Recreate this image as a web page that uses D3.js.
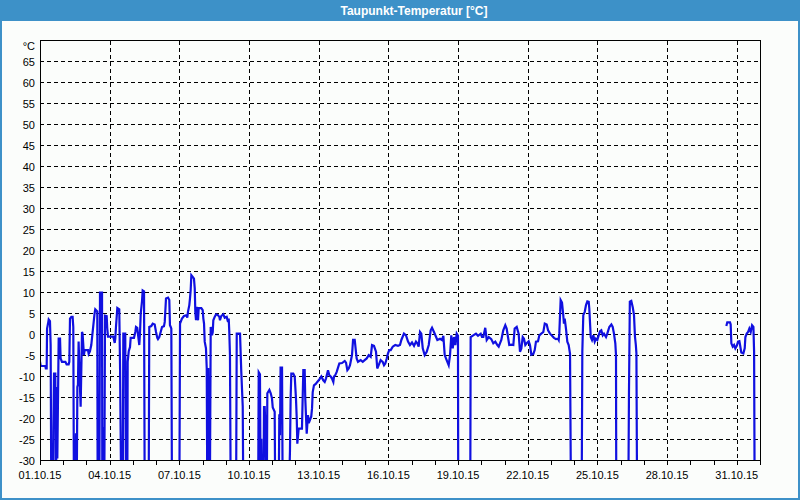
<!DOCTYPE html>
<html><head><meta charset="utf-8">
<script src="https://cdn.jsdelivr.net/npm/d3@7"></script>
<style>body{margin:0;background:#fff}svg{display:block}text{font-family:"Liberation Sans",Arial,sans-serif}</style>
</head><body><svg id="c" width="800" height="500"></svg>
<script>
const chartTitle = "Taupunkt-Temperatur [°C]";
const unitLabel = "°C";
const startDate = new Date(2015, 9, 1);
const endDate = new Date(2015, 10, 1);
const yTickValues = [-30,-25,-20,-15,-10,-5,0,5,10,15,20,25,30,35,40,45,50,55,60,65];
const xLabelDays = [0,3,6,9,12,15,18,21,24,27,30];
// [hours since 01.10.15 00:00, dew point °C]; values below -30 lie off the scale, null = no data
const dewPointReadings = [
[0,-6.5],[0.7,-7.5],[5.5,-7.5],[6,-8.1],[6.9,-8.1],[7.3,1.4],[8.3,2.6],[9,3.6],[10.3,3.2],[11,-2.5],[11.7,-40],[13.4,-40],[13.8,-22.8],[14.5,-9.3],[15.8,-9.3],[16.5,-40],[17.2,-12.5],[17.9,-29.5],[19.3,-1],[20.7,-1],[21.3,-5.7],[22.7,-6.5],[26.2,-6.5],[27.5,-7.1],[29.6,-7.1],[30.3,-6.5],[31,3.8],[32.4,4.2],[33.7,4.2],[34.4,1.8],[35.1,-40],[36.5,-40],[37.2,-23.5],[37.9,-40],[38.6,-12.5],[39.2,-12],[39.9,-1.7],[41.3,-12.5],[42,-17.2],[43.4,0.6],[44,0.2],[45.4,-4.9],[46.1,-3.7],[49.6,-3.7],[50.3,-4.6],[51.6,-4],[53,-2.5],[54.4,0.6],[56.4,5],[57.1,6],[59.2,5.5],[59.6,-40],[61.3,-40],[62,10],[64.1,10],[64.4,-40],[65,-40],[65.4,-22],[66,-40],[66.4,-40],[67.2,4.5],[68.9,4.4],[69.5,1.4],[70.3,-0.5],[75.7,-0.5],[77.2,-2],[77.8,-1],[78.5,1.8],[79.9,6.3],[81.9,6],[82.7,-7.3],[84,-40],[85.5,-40],[86.1,0.2],[88.1,0.2],[88.9,-40],[89.6,-9.5],[90.2,-40],[90.6,-6.5],[91.7,-4],[93,-3],[93.7,-0.8],[97.1,-0.8],[98.5,0.6],[99.2,1.8],[100.5,1.6],[101.3,0],[102.6,-2.5],[103.3,0.2],[104.1,5],[105.4,7.9],[106.1,10.5],[107.5,10.3],[108.2,-40],[112.3,-40],[112.9,1.8],[115,2],[116.5,2.6],[118.5,2.4],[119.9,0.6],[121.2,-0.8],[121.9,-1.1],[123.3,-0.6],[124.7,0.6],[126.1,1.8],[128.1,2],[128.9,3],[130.2,8.6],[132.3,8.8],[133.6,8.2],[134.3,2.2],[135.1,1.8],[135.7,1.4],[136.4,-40],
[144,-40],[144.7,2.6],[146.7,3.8],[148.8,4.4],[151.6,4.6],[152.2,4],[152.9,5.4],[154.3,7],[155,8.6],[155.7,10.6],[156.4,14.1],[157.8,13.7],[159.1,13.3],[159.9,11],[160.5,5.4],[161.2,3.4],[161.9,6.6],[162.5,4.6],[163.3,3.4],[164,6.3],[166.7,6.3],[168.1,5.8],[168.8,3.8],[169.5,2.6],[170.2,-1.7],[171.5,-3.3],[172.3,-8.1],[172.9,-40],[173.4,-40],[173.8,-8],[174.5,-40],[175.5,-40],[176.4,1.8],[177.7,-0.2],[178.5,0.6],[179.1,3.4],[180.5,4.2],[181.9,4.8],[183.9,4.6],[185.3,4.2],[186,3.4],[187.3,4.4],[189.4,4.8],[190.9,4],[192.9,4.2],[194.3,3],[195,3.8],[195.6,0.6],[196.3,-4.9],[197.1,-40],
[202.6,-40],[203.3,0.2],[206.7,0.2],[208,-8.9],[209.5,-17.2],[210.1,-40],
[225.4,-40],[226,-9],[227.3,-9.5],[228,-40],[228.7,-24.8],[229.4,-40],[230.8,-40],[231.5,-17.3],[232.2,-17.3],[232.8,-21.5],[234.3,-40],[234.9,-14],[237,-13.2],[238.4,-14],[239.7,-15.2],[240.5,-17.4],[242.5,-18.4],[243.1,-40],
[246.6,-40],[247.3,-19],[248,-24],[248.6,-7.9],[250.1,-7.9],[250.8,-40],
[257,-40],[258.3,-27.7],[259,-15],[259.7,-9.3],[261.7,-9.3],[263.2,-10],[264.5,-15.2],[265.3,-20],[265.9,-26],[267.3,-22.4],[270.7,-22.4],[272.1,-8.5],[273.5,-8.5],[274.1,-15.2],[275.6,-23.6],[276.9,-19.2],[277.7,-21.1],[279,-20.3],[280.3,-19.5],[281.1,-17.6],[281.8,-13.7],[283.1,-12.1],[285.2,-11.7],[286.5,-11.3],[288,-10.9],[290.7,-10],[292.7,-10.9],[294.2,-11.3],[295.5,-10.5],[297.6,-8.5],[299,-9.7],[300.4,-10],[301.7,-10.5],[303.1,-11.3],[303.8,-10],[305.1,-9.7],[306.6,-8.9],[309.3,-6.9],[312.1,-6.8],[314.9,-6.3],[316.2,-6.7],[317.6,-8.5],[319,-8.1],[320.3,-7.3],[322.4,-4.9],[323.5,-1.3],[325.2,-1.3],[327.2,-5.7],[328.6,-6.5],[331.4,-6.1],[333.5,-6.5],[335.5,-6.1],[337.6,-5.7],[339.7,-4.9],[341.7,-5.3],[343.1,-2.5],[345.1,-2.7],[347.2,-4.1],[348.5,-8.1],[350,-7.3],[352,-6.1],[354.1,-6.5],[355.5,-7.3],[356.8,-6.9],[358.3,-5.7],[359.6,-4.5],[360.9,-3.7],[362.4,-3.7],[364.5,-2.9],[367.1,-2.5],[369.9,-2.7],[372,-2.5],[373.4,-1.3],[376.1,0.2],[378.2,-0.2],[380.3,-1.7],[382.3,-2.5],[384.4,-1.9],[386.5,-2.7],[388.5,-1.7],[389.9,-2.1],[391.3,-2.9],[392.7,0.6],[394,0.2],[395.5,-3.3],[397.5,-4.9],[399.6,-4.1],[401.7,-2.5],[403.7,1],[405.1,1.6],[407.1,0.6],[410.6,-1.3],[413.3,-1],[415.4,-1.3],[416.8,-0.3],[418.2,-4.9],[420.2,-6.1],[422.3,-7.3],[423.7,-4.9],[425,-0.2],[426.5,-3.3],[427.8,-0.6],[429.2,-2.5],[430.6,0.2],[431.9,-0.3],[432.2,-40],
[444.6,-40],[445,-0.6],[447.7,-0.2],[450.5,0.2],[452.6,-0.3],[455.4,0.2],[456.7,-0.6],[458.1,-0.6],[460.1,1.6],[461.6,-1.3],[463.7,-0.6],[466.3,-1.1],[468.4,-2.1],[470.5,-1.7],[472.6,-2.5],[474,-2.9],[475.3,-2.1],[476.7,-1.3],[478.7,1],[480.8,2.2],[482.2,1.4],[483.6,-0.6],[484.9,-2.5],[487,-2.4],[489.1,-2.5],[490.5,1.4],[492.6,1.8],[494.6,0.2],[496,-4.1],[497.4,-3.3],[498.8,-0.6],[500.1,-1],[501.5,-2.5],[502.9,-2.1],[505,-1.6],[506.3,-2.5],[507.7,-4.8],[509.8,-4.6],[511.2,-3.7],[512.5,-1.7],[514.6,-1.6],[516,-0.2],[518,0.2],[520.1,0.6],[521.6,2.6],[523.6,2.4],[525,1],[527,0.2],[529.1,-0.3],[531.1,-0.8],[533.2,-1.1],[535.3,-1],[536,-1.3],[536.6,0.2],[538,8.2],[539.4,7.6],[540.7,4.6],[541.4,2.6],[542.2,3.8],[543.5,1.4],[544.9,-1.7],[546.3,-2.5],[547.7,-4.6],[548.7,-40],
[559.7,-40],[560.4,-4.1],[561.4,4.6],[562.9,5.4],[564.2,7],[565.6,7.9],[567,7.8],[567.6,6.2],[569.1,-0.6],[570.4,-1.3],[571.8,-0.2],[573.2,-1.7],[574.5,-1],[575.9,-1.3],[577.3,-0.2],[578.7,0.8],[580,1],[581.5,-0.2],[582.8,0.2],[584.9,-0.6],[586.2,0.2],[588.3,1.8],[590.4,2.4],[591.8,1.8],[593.1,0.2],[594.5,-2.1],[595.2,-4.9],[595.5,-40],
[607.9,-40],[608.6,-14],[609.5,7.8],[611,8],[612.5,6.5],[613.8,4.6],[614.8,-0.5],[615.7,-2.5],[616.3,-4.5],[617,-40],
[660,null],
[709.2,2],[710.2,2.9],[713,2.9],[713.7,2.4],[714.4,-2.1],[715.8,-2.9],[717.2,-2.5],[718.5,-3.3],[720,-2.7],[721.3,-1.7],[722.7,-1.6],[723.4,-2.5],[724.7,-4.3],[726.8,-4.5],[728.2,-3.3],[728.9,-0.6],[730.3,0.2],[731.7,0.6],[733,1.4],[734.4,0.6],[735.8,2.2],[737.2,1.8],[737.9,-4.1],[738.5,-40]
];

const W = 800, H = 500;
const plotLeft = 40, plotRight = 760, plotTop = 40.5, plotBottom = 460.5;
const svg = d3.select("#c");
const hourMs = 3600000;
const data = dewPointReadings.map(([h, v]) => ({t: new Date(startDate.getTime() + h * hourMs), v}));

const x = d3.scaleTime().domain([startDate, endDate]).range([plotLeft, plotRight]);
const y = d3.scaleLinear().domain([-30, 70]).range([plotBottom, plotTop]);
const px = d => Math.round(x(d)) + 0.5;

svg.append("rect").attr("width", W).attr("height", H).attr("fill", "#fbfdfb");
svg.append("rect").attr("x", 1).attr("y", 1).attr("width", W - 2).attr("height", H - 2)
  .attr("fill", "none").attr("stroke", "#3d91c8").attr("stroke-width", 2);
svg.append("rect").attr("width", W).attr("height", 21).attr("fill", "#3d91c8");
svg.append("text").attr("x", 414).attr("y", 15).attr("text-anchor", "middle")
  .attr("fill", "#fff").attr("font-weight", "bold").attr("font-size", 12).text(chartTitle);

const grid = svg.append("g").attr("stroke", "#000").attr("stroke-width", 1).attr("stroke-dasharray", "4,3")
  .attr("shape-rendering", "crispEdges");
grid.selectAll("line.h").data(yTickValues.filter(v => v > -30)).join("line")
  .attr("x1", plotLeft).attr("x2", plotRight).attr("y1", d => y(d)).attr("y2", d => y(d));
const labelDates = xLabelDays.map(d => d3.timeDay.offset(startDate, d));
grid.selectAll("line.v").data(labelDates.slice(1)).join("line")
  .attr("x1", px).attr("x2", px).attr("y1", plotTop).attr("y2", plotBottom);

svg.append("clipPath").attr("id", "clip").append("rect")
  .attr("x", plotLeft).attr("y", plotTop).attr("width", plotRight - plotLeft).attr("height", plotBottom - plotTop);
const line = d3.line().defined(d => d.v !== null).x(d => x(d.t)).y(d => y(d.v));
svg.append("path").datum(data).attr("clip-path", "url(#clip)")
  .attr("fill", "none").attr("stroke", "#1010e0").attr("stroke-width", 2.2)
  .attr("stroke-linejoin", "miter").attr("d", line);

svg.append("rect").attr("x", plotLeft + 0.5).attr("y", plotTop).attr("width", plotRight - plotLeft).attr("height", plotBottom - plotTop)
  .attr("fill", "none").attr("stroke", "#000").attr("shape-rendering", "crispEdges");

const days = d3.timeDay.range(startDate, d3.timeDay.offset(endDate, 1));
svg.append("g").attr("shape-rendering", "crispEdges").selectAll("line").data(days).join("line")
  .attr("x1", px).attr("x2", px).attr("y1", plotBottom).attr("y2", plotBottom + 4).attr("stroke", "#000");
const fmt = d3.timeFormat("%d.%m.%y");
svg.append("g").selectAll("text").data(labelDates).join("text")
  .attr("x", d => x(d)).attr("y", 479).attr("text-anchor", "middle").attr("font-size", 11)
  .attr("fill", "#000").text(fmt);

svg.append("g").selectAll("text").data(yTickValues).join("text")
  .attr("x", 35).attr("y", d => y(d) + 4).attr("text-anchor", "end").attr("font-size", 11)
  .attr("fill", "#000").text(d => d);
svg.append("text").attr("x", 35).attr("y", 50).attr("text-anchor", "end").attr("font-size", 11).text(unitLabel);
</script></body></html>
